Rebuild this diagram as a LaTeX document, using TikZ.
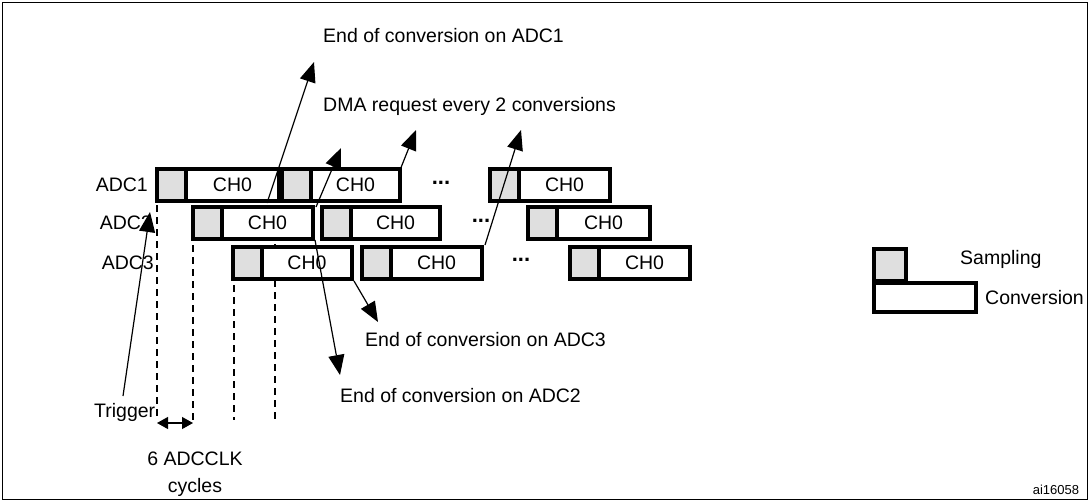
\documentclass[tikz,border=0pt]{standalone}
\usepackage{fontspec}
\setmainfont{Liberation Sans}
\usetikzlibrary{arrows.meta}
\begin{document}
\begin{tikzpicture}[x=1pt,y=-1pt,
  samp/.style={draw,line width=4.5pt,fill=gray!25},
  conv/.style={draw,line width=4.5pt,fill=white},
  lbl/.style={font=\fontsize{19.5}{22}\selectfont,inner sep=0pt},
  dots/.style={font=\fontsize{22}{22}\selectfont\bfseries,inner sep=0pt},
  arr/.style={line width=1.2pt,-{Triangle[length=20pt,width=16pt]}},
  dsh/.style={line width=1.5pt,dash pattern=on 7pt off 5pt}]
\useasboundingbox (0,0) rectangle (1089,501);
\draw[line width=1pt] (2,2) rectangle (1087,499);
% dashed lines
\draw[dsh] (157,205) -- (157,420);
\draw[dsh] (193,245) -- (193,420);
\draw[dsh] (234,285) -- (234,420);
\draw[dsh] (275,232) -- (275,420);
% blocks
\newcommand\blk[4]{% x0 x1 y name
  \draw[conv] (#1,#3) rectangle (#2,#3+32);
  \draw[samp] (#1,#3) rectangle (#1+29,#3+32);
  \node[lbl] (#4) at ({(#1+29+#2)/2},#3+16) {CH0};}
\blk{157}{279}{169}{a1}
\blk{282}{400}{169}{a2}
\blk{490}{610}{169}{a3}
\blk{193}{313}{207}{b1}
\blk{322}{440}{207}{b2}
\blk{528}{650}{207}{b3}
\blk{233}{352}{247}{c1}
\blk{362}{482}{247}{c2}
\blk{570}{690}{247}{c3}
\node[dots] (d1) at (441,183) {...};
\node[dots] (d2) at (481,221) {...};
\node[dots] (d3) at (521,260) {...};
\node[lbl,anchor=east] (l1) at (148,185) {ADC1};
\node[lbl,anchor=east] (l2) at (152,223) {ADC2};
\node[lbl,anchor=east] (l3) at (154,263) {ADC3};
% labels
\node[lbl,anchor=west] (e1) at (323,36) {End of conversion on ADC1};
\node[lbl,anchor=west] (dma) at (323,106) {DMA request every 2 conversions};
\node[lbl,anchor=west] (e3) at (365,340) {End of conversion on ADC3};
\node[lbl,anchor=west] (e2) at (340,396) {End of conversion on ADC2};
\node[lbl,anchor=west] (tr) at (94,412) {Trigger};
% arrows
\coordinate (s1) at (267,203); \coordinate (t1) at (314,62);
\draw[arr] (s1) -- (t1);
\coordinate (s2) at (316,207); \coordinate (t2) at (341,148);
\draw[arr] (s2) -- (t2);
\coordinate (s3) at (400,170); \coordinate (t3) at (416,130);
\draw[arr] (s3) -- (t3);
\coordinate (s4) at (485,245); \coordinate (t4) at (521,130);
\draw[arr] (s4) -- (t4);
\coordinate (s5) at (354,281); \coordinate (t5) at (378,322);
\draw[arr] (s5) -- (t5);
\coordinate (s6) at (315,240); \coordinate (t6) at (340,375);
\draw[arr] (s6) -- (t6);
\coordinate (s7) at (123,396); \coordinate (t7) at (150,212);
\draw[arr] (s7) -- (t7);
\coordinate (h1) at (157,423); \coordinate (h2) at (193,423);
\draw[line width=1.2pt,{Triangle[length=11pt,width=12pt]}-{Triangle[length=11pt,width=12pt]}] (h1) -- (h2);
\node[lbl,align=center,font=\fontsize{19.5}{27}\selectfont] (clk) at (195,474) {6 ADCCLK\\cycles};
% legend
\draw[samp] (874,249) rectangle (906,281);
\draw[conv] (874,283) rectangle (976,312);
\node[lbl,anchor=west] (ls) at (960,259) {Sampling};
\node[lbl,anchor=west] (lc) at (985,298) {Conversion};
\node[inner sep=0pt,font=\fontsize{13}{14}\selectfont] (id) at (1056,490) {ai16058};
\end{tikzpicture}
\end{document}
